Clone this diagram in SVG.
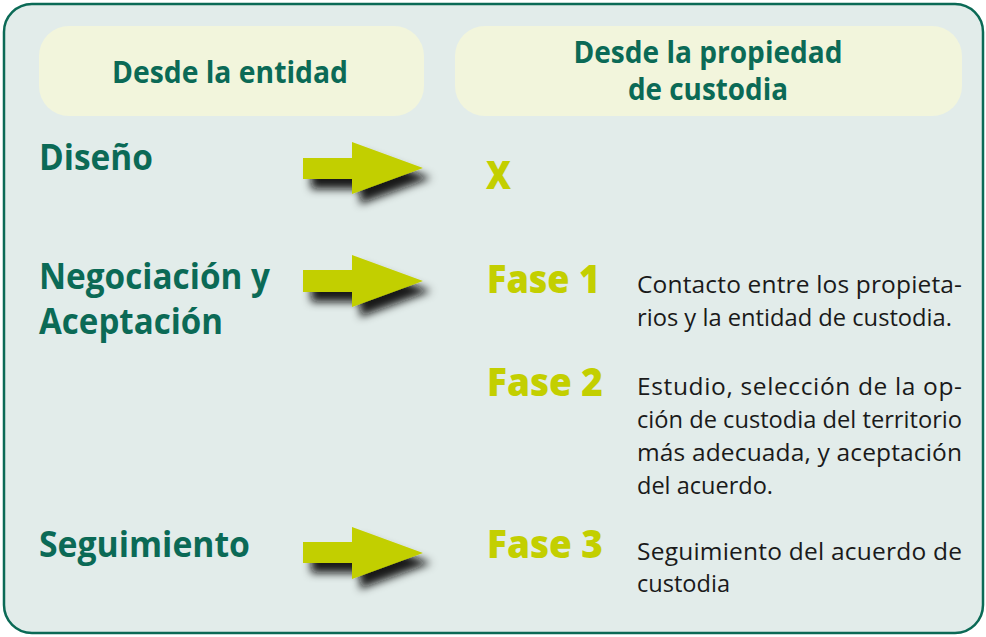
<svg xmlns="http://www.w3.org/2000/svg" width="986" height="637" viewBox="0 0 986 637">
<style>
.hdr{fill:#f2f5dc}
.ht{font-family:"Open Sans","Noto Sans",sans-serif;font-weight:700;font-size:30.5px;fill:#0b6a56;text-anchor:middle}
.lbl{font-family:"Open Sans","Noto Sans",sans-serif;font-weight:700;font-size:35.5px;fill:#0b6a56}
.fase{font-family:"Open Sans","Noto Sans",sans-serif;font-weight:800;font-size:39px;fill:#c3cf00}
.desc{font-family:"Open Sans","Noto Sans",sans-serif;font-weight:400;font-size:24.5px;fill:#1a1a1a}
.arr{fill:#c2cf00;filter:url(#sh)}
</style>
<defs>
<filter id="sh" x="-30%" y="-50%" width="170%" height="220%">
<feDropShadow dx="8" dy="10" stdDeviation="4.5" flood-color="#111" flood-opacity="0.95"/>
</filter>
</defs>
<rect id="panel" x="4" y="4" width="979" height="629" rx="28" fill="#e2ecea" stroke="#0b6a56" stroke-width="2.5"/>
<g id="hdr-entidad">
<rect class="hdr" x="39" y="26" width="385" height="90" rx="30"/>
<text class="ht" x="230" y="83" textLength="236" lengthAdjust="spacingAndGlyphs">Desde la entidad</text>
</g>
<g id="hdr-propiedad">
<rect class="hdr" x="455" y="26" width="507" height="90" rx="30"/>
<text class="ht" x="708" y="63" textLength="269" lengthAdjust="spacingAndGlyphs">Desde la propiedad</text>
<text class="ht" x="708" y="100" textLength="160" lengthAdjust="spacingAndGlyphs">de custodia</text>
</g>
<g id="diseno"><text class="lbl" x="39" y="170" textLength="114" lengthAdjust="spacingAndGlyphs">Diseño</text></g>
<g id="negociacion">
<text class="lbl" x="39" y="289" textLength="231" lengthAdjust="spacingAndGlyphs">Negociación y</text>
<text class="lbl" x="39" y="334" textLength="184" lengthAdjust="spacingAndGlyphs">Aceptación</text>
</g>
<g id="seguimiento"><text class="lbl" x="39" y="557" textLength="211" lengthAdjust="spacingAndGlyphs">Seguimiento</text></g>
<g id="x"><text class="fase" x="486" y="189" textLength="25" lengthAdjust="spacingAndGlyphs">X</text></g>
<g id="fase1">
<text class="fase" x="487" y="293" textLength="113" lengthAdjust="spacingAndGlyphs">Fase 1</text>
<text class="desc" x="637" y="293" textLength="325">Contacto entre los propieta-</text>
<text class="desc" x="637" y="326" textLength="315" lengthAdjust="spacingAndGlyphs">rios y la entidad de custodia.</text>
</g>
<g id="fase2">
<text class="fase" x="487" y="396" textLength="116" lengthAdjust="spacingAndGlyphs">Fase 2</text>
<text class="desc" x="637" y="395" textLength="325">Estudio, selección de la op-</text>
<text class="desc" x="637" y="428" textLength="325" lengthAdjust="spacingAndGlyphs">ción de custodia del territorio</text>
<text class="desc" x="637" y="461" textLength="325">más adecuada, y aceptación</text>
<text class="desc" x="637" y="494" textLength="136" lengthAdjust="spacingAndGlyphs">del acuerdo.</text>
</g>
<g id="fase3">
<text class="fase" x="487" y="558" textLength="116" lengthAdjust="spacingAndGlyphs">Fase 3</text>
<text class="desc" x="637" y="560" textLength="325">Seguimiento del acuerdo de</text>
<text class="desc" x="637" y="592" textLength="93" lengthAdjust="spacingAndGlyphs">custodia</text>
</g>
<g id="connectors">
<polygon class="arr" points="303,158 352,158 352,142 423,168 352,194 352,179 303,179"/>
<polygon class="arr" points="303,270 352,270 352,255 423,281 352,307 352,292 303,292"/>
<polygon class="arr" points="303,542 352,542 352,527 423,553 352,579 352,563 303,563"/>
</g>
</svg>
